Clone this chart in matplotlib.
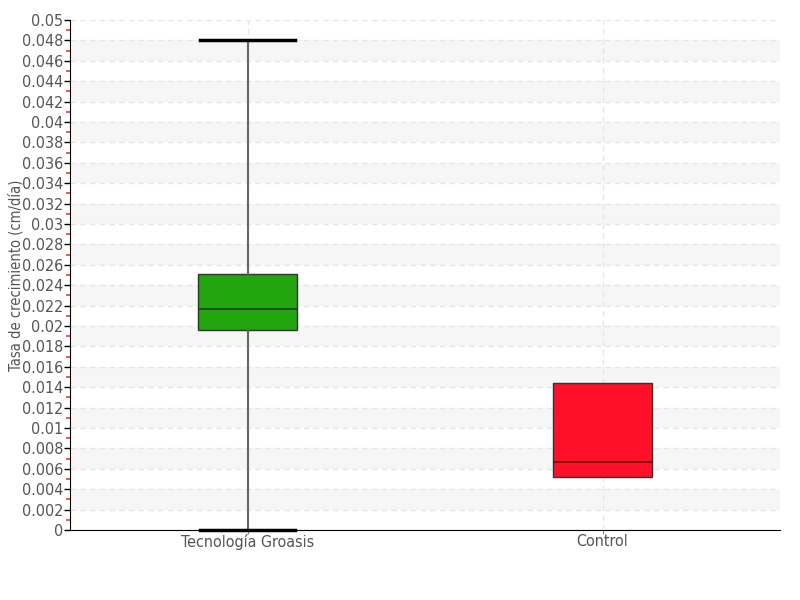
import matplotlib.pyplot as plt
from matplotlib.ticker import MultipleLocator
from matplotlib import font_manager

# datos
categorias = ['Tecnología Groasis', 'Control']
minimos = [0.0, 0.0052]
q1 = [0.0196, 0.0052]
medianas = [0.0217, 0.0067]
q3 = [0.0251, 0.0144]
maximos = [0.048, 0.0144]
colores = ['#22a50f', '#ff0f28']

nombres = set(f.name for f in font_manager.fontManager.ttflist)
for cand in ['Liberation Sans Narrow', 'DejaVu Sans Condensed', 'DejaVu Sans']:
    if cand in nombres:
        fuente = cand
        break
plt.rcParams['font.family'] = [fuente, 'DejaVu Sans']
plt.rcParams['font.stretch'] = 'condensed'

fig = plt.figure(figsize=(8, 6), dpi=100)
ax = fig.add_axes([0.0875, 0.1167, 0.8875, 0.85])

stats = []
for i, c in enumerate(categorias):
    stats.append(dict(label=c, whislo=minimos[i], q1=q1[i], med=medianas[i],
                      q3=q3[i], whishi=maximos[i], fliers=[]))

pos = [0.5, 1.5]
bp = ax.bxp(stats, positions=pos, widths=0.28, patch_artist=True, showfliers=False,
            boxprops=dict(edgecolor='#333333', linewidth=1),
            medianprops=dict(color='#1f3a1a', linewidth=1.2),
            whiskerprops=dict(color='#666666', linewidth=1.5),
            capprops=dict(color='black', linewidth=2.5), capwidths=0.27, zorder=3)
for caja, col in zip(bp['boxes'], colores):
    caja.set_facecolor(col)
bp['medians'][1].set_color('#5a0a10')
for cap in bp['caps']:
    cap.set_clip_on(False)
# Control sin bigotes
for k in (2, 3):
    bp['whiskers'][k].set_visible(False)
    bp['caps'][k].set_visible(False)

ax.set_xlim(0, 2)
ax.set_ylim(0, 0.05)

# bandas alternas
for y0 in [0.002 + 0.004 * k for k in range(12)]:
    ax.axhspan(y0, y0 + 0.002, xmin=0.003, color='#f6f6f6', zorder=0, lw=0)

ax.yaxis.set_major_locator(MultipleLocator(0.002))
ax.yaxis.set_minor_locator(MultipleLocator(0.001))
ax.yaxis.set_major_formatter(plt.FuncFormatter(lambda v, p: '%g' % round(v, 4)))
ax.grid(axis='y', which='major', color='#e6e6e6', linestyle=(0, (4, 3)), linewidth=1, zorder=1)
ax.grid(axis='x', which='major', color='#e6e6e6', linestyle=(0, (4, 3)), linewidth=1, zorder=1)
ax.set_axisbelow(True)

ax.tick_params(axis='y', which='major', length=4, width=1, color='black', labelsize=11.5, labelcolor='#555555', pad=1)
ax.tick_params(axis='y', which='minor', length=3, width=1.2, color='#ff3333')
ax.tick_params(axis='x', length=3, color='#888888', labelsize=11.5, labelcolor='#555555', pad=0)
ax.set_xticks(pos)
ax.set_xticklabels(categorias)

for s in ('top', 'right'):
    ax.spines[s].set_visible(False)
ax.spines['left'].set_color('black')
ax.spines['bottom'].set_color('black')

ax.set_ylabel('Tasa de crecimiento (cm/día)', fontsize=10.5, color='#555555')
ax.yaxis.set_label_coords(-0.066, 0.5)

fig.savefig('out.png', dpi=100)
